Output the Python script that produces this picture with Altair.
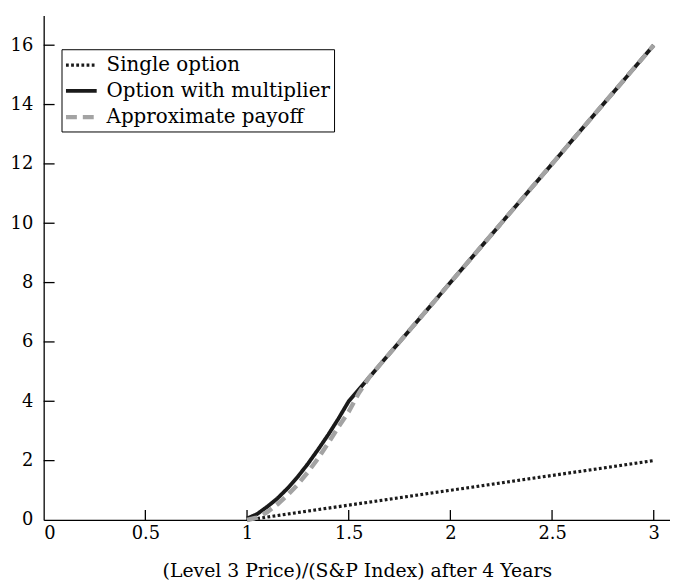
import altair as alt
import pandas as pd

# ---- data ----
single_x = [1.0, 3.0]
single_y = [0.0, 2.0]

mult_x = [1.0, 1.05, 1.10, 1.15, 1.20, 1.25, 1.30, 1.35, 1.40, 1.45, 1.50, 3.0]
mult_y = [0.05, 0.20, 0.45, 0.73, 1.07, 1.46, 1.90, 2.38, 2.88, 3.42, 4.0, 16.0]

approx_x = [1.0, 1.05, 1.10, 1.15, 1.20, 1.25, 1.30, 1.35, 1.40, 1.45, 1.50, 1.55, 1.60, 3.0]
approx_y = [0.0, 0.08, 0.27, 0.53, 0.84, 1.20, 1.62, 2.08, 2.60, 3.14, 3.65, 4.28, 4.80, 16.0]

series_names = ["Single option", "Option with multiplier", "Approximate payoff"]
x_ticks = [0, 0.5, 1, 1.5, 2, 2.5, 3]
y_ticks = [0, 2, 4, 6, 8, 10, 12, 14, 16]

rows = []
for name, xs, ys in [(series_names[0], single_x, single_y),
                     (series_names[1], mult_x, mult_y),
                     (series_names[2], approx_x, approx_y)]:
    for i, (a, b) in enumerate(zip(xs, ys)):
        rows.append({"x": a, "y": b, "series": name, "order": i})
df = pd.DataFrame(rows)

W = 632
H = 509
FONT = "DejaVu Serif"

xscale = alt.Scale(domain=[0, 3.08], nice=False, zero=False)
yscale = alt.Scale(domain=[0, 17], nice=False, zero=False)

legend = alt.Legend(
    title=None, orient="none", legendX=18, legendY=34,
    strokeColor="black", padding=4, cornerRadius=0,
    labelFont=FONT, labelFontSize=20, labelColor="black", labelLimit=0,
    symbolType="M-1.55,0H1.55", symbolSize=400, symbolOffset=3.5,
    labelOffset=13, rowPadding=4,
)

lines = alt.Chart(df).mark_line(strokeCap="butt", strokeJoin="round").encode(
    x=alt.X("x:Q", scale=xscale, axis=alt.Axis(
        values=x_ticks, format="~g", ticks=False, grid=False,
        domainColor="black", domainWidth=1.3,
        labelFont=FONT, labelFontSize=18, labelColor="black", labelPadding=5,
        title="(Level 3 Price)/(S&P Index) after 4 Years",
        titleFont=FONT, titleFontSize=19, titleFontWeight="normal",
        titleColor="black", titlePadding=19)),
    y=alt.Y("y:Q", scale=yscale, axis=alt.Axis(
        values=y_ticks, format="d", ticks=False, grid=False,
        domainColor="black", domainWidth=1.3,
        labelFont=FONT, labelFontSize=18, labelColor="black", labelPadding=11,
        title=None)),
    color=alt.Color("series:N", scale=alt.Scale(
        domain=series_names, range=["#1a1a1a", "#1a1a1a", "#a3a3a3"]), legend=legend),
    strokeDash=alt.StrokeDash("series:N", scale=alt.Scale(
        domain=series_names, range=[[2.8, 2.4], [1, 0], [11, 6]]), legend=legend),
    strokeWidth=alt.StrokeWidth("series:N", scale=alt.Scale(
        domain=series_names, range=[3.2, 4.5, 3.5]), legend=legend),
    order="order:Q",
)

xt = pd.DataFrame({"t": [0.5, 1, 1.5, 2, 2.5, 3]})
yt = pd.DataFrame({"t": [2, 4, 6, 8, 10, 12, 14, 16]})

xticks = alt.Chart(xt).mark_rule(color="black", strokeWidth=1.3).encode(
    x=alt.X("t:Q", scale=xscale), y=alt.value(H - 10), y2=alt.value(H))
yticks = alt.Chart(yt).mark_rule(color="black", strokeWidth=1.3).encode(
    y=alt.Y("t:Q", scale=yscale), x=alt.value(0), x2=alt.value(11))

chart = alt.layer(xticks, yticks, lines).properties(
    width=W, height=H,
    autosize=alt.AutoSizeParams(type="none"),
    padding={"left": 36, "top": 5, "right": 0, "bottom": 60},
).configure_view(stroke=None)

chart.save("out.html", embed_options={"renderer": "svg", "actions": False})
